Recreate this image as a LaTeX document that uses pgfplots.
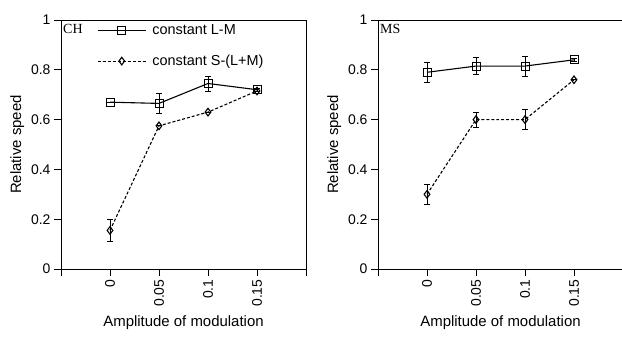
\documentclass[border=0pt]{standalone}
\usepackage{fontspec}
\setmainfont{Liberation Sans}
\newfontfamily\serifpanel{Liberation Serif}
\usepackage{pgfplots}
\pgfplotsset{compat=1.18}
\pgfplotsset{mystyle/.style={
  scale only axis, width=245bp, height=249bp,
  xmin=-0.05, xmax=0.2, ymin=0, ymax=1,
  xtick={-0.05,0,0.05,0.1,0.15,0.2},
  xticklabels={,0,0.05,0.1,0.15,},
  ytick={0,0.2,0.4,0.6,0.8,1},
  yticklabels={0,0.2,0.4,0.6,0.8,1},
  x tick label style={rotate=90, anchor=east},
  tick align=outside, tick pos=left,
  major tick length=7bp,
  axis line style={line width=0.9pt},
  tick style={black, line width=0.9pt},
  ticklabel style={font=\fontsize{14}{14}\selectfont},
  label style={font=\fontsize{15}{15}\selectfont},
  xlabel style={yshift=-2bp},
  ylabel={Relative speed}, xlabel={Amplitude of modulation},
  clip=false,
},
lm/.style={black, line width=1.1pt, mark=square, mark size=4bp, mark options={solid, fill=white, line width=1pt},
  error bars/.cd, y dir=both, y explicit, error bar style={line width=0.9pt, solid}, error mark options={rotate=90, mark size=3bp, line width=0.9pt}},
sm/.style={black, line width=1.1pt, densely dashed, mark=diamond, mark size=3.8bp, mark options={solid, fill=white, line width=1.1pt},
  error bars/.cd, y dir=both, y explicit, error bar style={line width=0.9pt, solid}, error mark options={rotate=90, mark size=3bp, line width=0.9pt}},
}
\begin{document}
\begin{tikzpicture}
\useasboundingbox (-61bp,-69bp) rectangle (561bp,269bp);
\begin{axis}[mystyle,
  legend style={at={(rel axis cs:0.147,0.99)}, anchor=north west, draw=none, fill=none,
    font=\fontsize{14.5}{14.5}\selectfont, row sep=15bp, inner sep=0pt},
  legend cell align=left,
  legend image code/.code={\draw[#1, mark repeat=2, mark phase=2] plot coordinates {(0bp,0bp) (24bp,0bp) (48bp,0bp)}; \path (52bp,0bp);},
]
\addplot[lm] coordinates {(0,0.67) +- (0,0) (0.05,0.665) +- (0,0.04) (0.1,0.745) +- (0,0.03) (0.15,0.72) +- (0,0.005)};
\addlegendentry{constant L-M}
\addplot[sm] coordinates {(0,0.155) +- (0,0.045) (0.05,0.575) +- (0,0) (0.1,0.63) +- (0,0) (0.15,0.715) +- (0,0)};
\addlegendentry{constant S-(L+M)}
\node[font=\serifpanel\fontsize{14}{14}\selectfont, anchor=north west, inner sep=2bp, yshift=-2bp] at (rel axis cs:0,1) {CH};
\end{axis}
\begin{axis}[mystyle, at={(317bp,0bp)}]
\addplot[lm] coordinates {(0,0.79) +- (0,0.04) (0.05,0.815) +- (0,0.035) (0.1,0.815) +- (0,0.04) (0.15,0.84) +- (0,0.005)};
\addplot[sm] coordinates {(0,0.30) +- (0,0.04) (0.05,0.60) +- (0,0.03) (0.1,0.60) +- (0,0.04) (0.15,0.76) +- (0,0)};
\node[font=\serifpanel\fontsize{14}{14}\selectfont, anchor=north west, inner sep=2bp, yshift=-2bp] at (rel axis cs:0,1) {MS};
\end{axis}
\end{tikzpicture}
\end{document}
